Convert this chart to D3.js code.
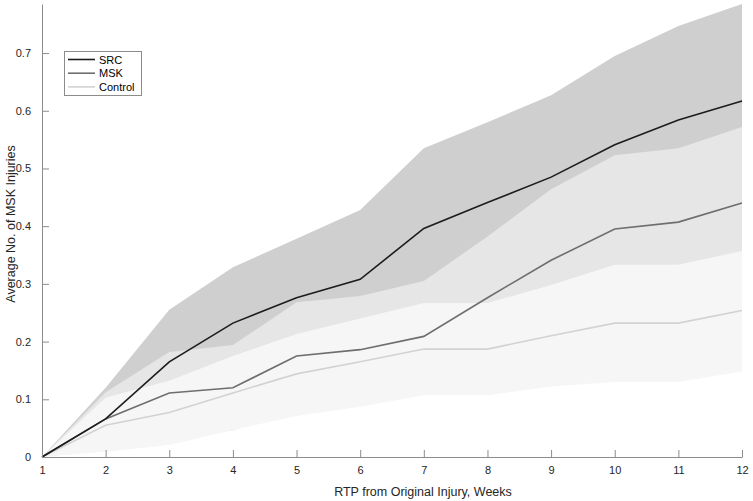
<!DOCTYPE html>
<html><head><meta charset="utf-8">
<script src="https://cdn.jsdelivr.net/npm/d3@7"></script>
<style>body{margin:0;background:#fff}svg{display:block}text{font-family:"Liberation Sans",Arial,sans-serif}</style>
</head><body><svg id="c" width="753" height="501"></svg>
<script>
const weeks = [1,2,3,4,5,6,7,8,9,10,11,12];
const srcMean = [0,0.066,0.165,0.232,0.276,0.308,0.396,0.441,0.485,0.541,0.584,0.617];
const srcUpper = [0,0.120,0.255,0.329,0.378,0.428,0.535,0.580,0.627,0.695,0.747,0.785];
const srcLower = [0,0.030,0.075,0.135,0.174,0.188,0.257,0.302,0.343,0.387,0.421,0.449];
const mskMean = [0,0.066,0.111,0.120,0.175,0.186,0.209,0.276,0.341,0.395,0.407,0.440];
const mskUpper = [0,0.112,0.182,0.194,0.268,0.279,0.305,0.382,0.464,0.523,0.535,0.572];
const mskLower = [0,0.020,0.040,0.046,0.082,0.093,0.113,0.170,0.218,0.267,0.279,0.308];
const ctlMean = [0,0.055,0.077,0.111,0.144,0.165,0.187,0.187,0.210,0.232,0.232,0.254];
const ctlUpper = [0,0.103,0.132,0.175,0.213,0.240,0.267,0.267,0.298,0.333,0.333,0.357];
const ctlLower = [0,0.009,0.021,0.047,0.071,0.087,0.107,0.107,0.122,0.130,0.130,0.148];
const yTicks = [0,0.1,0.2,0.3,0.4,0.5,0.6,0.7];
const seriesNames = ["SRC","MSK","Control"];

const svg = d3.select("#c");
const x = d3.scaleLinear().domain([1,12]).range([42,742]);
const y = d3.scaleLinear().domain([0,0.785]).range([457,4]);

const bands = [
  {lo:srcLower, hi:srcUpper, fill:"#cfcfcf"},
  {lo:mskLower, hi:mskUpper, fill:"#e6e6e6"},
  {lo:ctlLower, hi:ctlUpper, fill:"#f6f6f6"}
];
const area = d3.area().x((d,i)=>x(weeks[i])).y0(d=>y(d[0])).y1(d=>y(d[1]));
bands.forEach(b=>{
  svg.append("path").datum(b.lo.map((v,i)=>[v,b.hi[i]])).attr("d",area).attr("fill",b.fill);
});

const lines = [
  {v:ctlMean, c:"#d2d2d2"},
  {v:mskMean, c:"#6e6e6e"},
  {v:srcMean, c:"#1c1c1c"}
];
const line = d3.line().x((d,i)=>x(weeks[i])).y(d=>y(d));
lines.forEach(l=>{
  svg.append("path").datum(l.v).attr("d",line).attr("fill","none").attr("stroke",l.c).attr("stroke-width",1.6);
});

// axes
const axisColor = "#8c8c8c";
const xAxis = svg.append("g").attr("transform","translate(0,457)")
  .call(d3.axisBottom(x).tickValues(weeks).tickFormat(d3.format("d")).tickSizeInner(-7).tickSizeOuter(0).tickPadding(9));
const yAxis = svg.append("g").attr("transform","translate(42,0)")
  .call(d3.axisLeft(y).tickValues(yTicks).tickFormat(d=>d===0?"0":d3.format(".1f")(d)).tickSizeInner(-7).tickSizeOuter(0).tickPadding(11));
[xAxis,yAxis].forEach(g=>{
  g.select(".domain").attr("stroke",axisColor);
  g.selectAll(".tick line").attr("stroke",axisColor);
  g.selectAll(".tick text").attr("fill","#262626").style("font-size","11px").style("font-family","'Liberation Sans',Arial,sans-serif");
});

svg.append("text").attr("x",423).attr("y",496).attr("text-anchor","middle")
  .attr("fill","#262626").style("font-size","12.5px").text("RTP from Original Injury, Weeks");
svg.append("text").attr("transform","translate(15,224) rotate(-90)").attr("text-anchor","middle")
  .attr("fill","#262626").style("font-size","12.5px").text("Average No. of MSK Injuries");

// legend
const lg = svg.append("g");
lg.append("rect").attr("x",64.5).attr("y",51.5).attr("width",77).attr("height",44)
  .attr("fill","#fff").attr("stroke","#8c8c8c").attr("stroke-width",1);
const legCols = ["#1c1c1c","#6e6e6e","#d2d2d2"];
seriesNames.forEach((n,i)=>{
  const yy = 59.5 + i*13.7;
  lg.append("line").attr("x1",68).attr("x2",95).attr("y1",yy).attr("y2",yy).attr("stroke",legCols[i]).attr("stroke-width",1.6);
  lg.append("text").attr("x",99).attr("y",yy+4).attr("fill","#000").style("font-size","11px").text(n);
});
</script></body></html>
